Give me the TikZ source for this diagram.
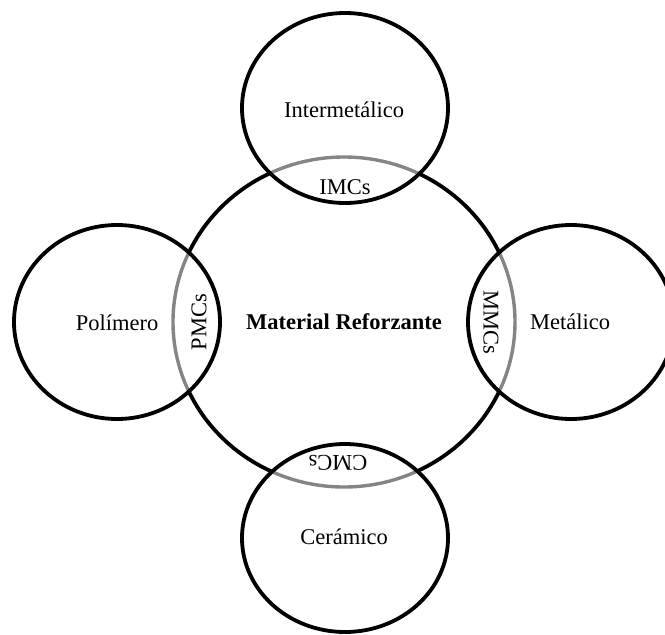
\documentclass[tikz,border=0pt]{standalone}
\usepackage{fontspec}
\setmainfont{Liberation Serif}
\usetikzlibrary{positioning}
\tikzstyle{ring} = [draw=black, line width=3.8pt]
\tikzstyle{overlap} = [draw=black!48, line width=3.4pt]
\tikzstyle{txt} = [font=\fontsize{22.5}{26}\selectfont, inner sep=0pt]

\begin{document}
\begin{tikzpicture}[x=1pt, y=-1pt]
    \useasboundingbox (0,0) rectangle (665,635);
    \coordinate (core) at (344,322);
    \coordinate (inter) at (345,108);
    \coordinate (poly) at (117,322);
    \coordinate (metal) at (571,322);
    \coordinate (ceram) at (345,538);
    % central circle, black outside the outer circles
    \begin{scope}[even odd rule]
        \clip (-20,-20) rectangle (700,660)
            (inter) ellipse [x radius=103pt, y radius=95pt]
            (poly) ellipse [x radius=103pt, y radius=97pt]
            (metal) ellipse [x radius=103pt, y radius=97pt]
            (ceram) ellipse [x radius=103pt, y radius=94pt];
        \draw[ring] (core) ellipse [x radius=171pt, y radius=165pt];
    \end{scope}
    % grey inside them
    \foreach \c/\rx/\ry in {inter/103/95, poly/103/97, metal/103/97, ceram/103/94} {
        \begin{scope}
            \clip (\c) ellipse [x radius=\rx pt, y radius=\ry pt];
            \draw[overlap] (core) ellipse [x radius=171pt, y radius=165pt];
        \end{scope}
        \draw[ring] (\c) ellipse [x radius=\rx pt, y radius=\ry pt];
    }
    \node[txt, font=\fontsize{22.5}{26}\selectfont\bfseries] (reinf) at (core) {Material Reforzante};
    \node[txt] (intertxt) at (344,110) {Intermetálico};
    \node[txt] (polytxt) at (117,323) {Polímero};
    \node[txt] (metaltxt) at (570,322) {Metálico};
    \node[txt] (ceramtxt) at (344,537) {Cerámico};
    \node[txt] (imc) at (345,187) {IMCs};
    \node[txt, rotate=90] (pmc) at (199,322) {PMCs};
    \node[txt, rotate=-90] (mmc) at (491,322) {MMCs};
    \node[txt, rotate=180] (cmc) at (338,463) {CMCs};
\end{tikzpicture}
\end{document}
